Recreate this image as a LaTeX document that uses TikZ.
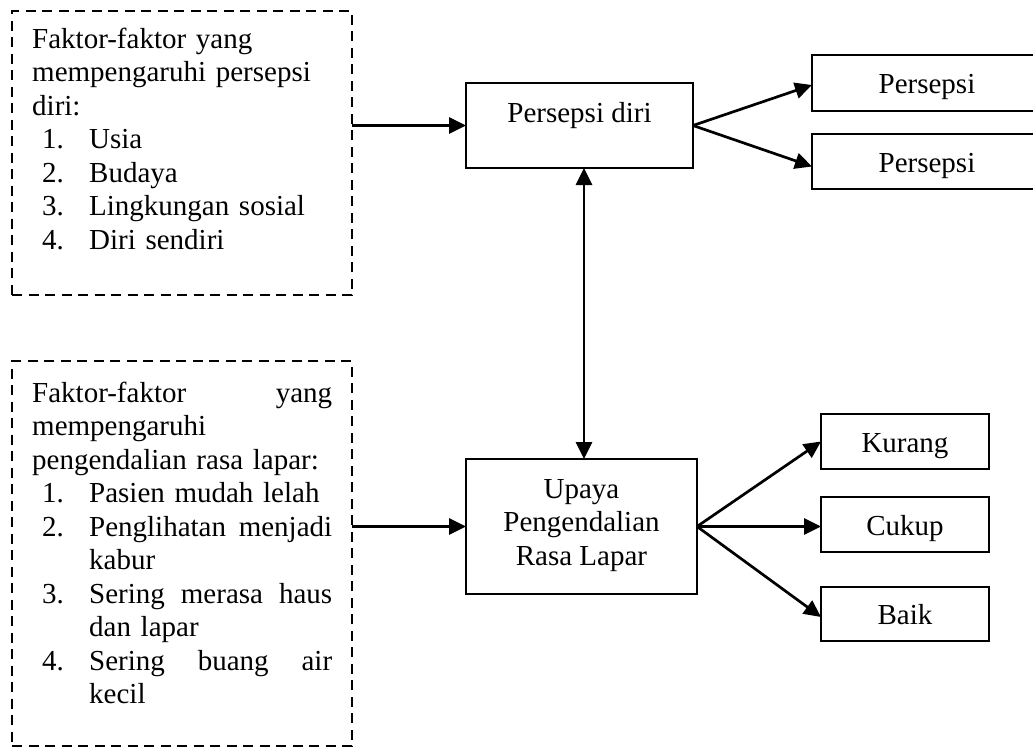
\documentclass[tikz,border=0pt]{standalone}
\usepackage{fontspec}
\setmainfont{Liberation Serif}
\usetikzlibrary{arrows.meta}
\newcommand{\itm}[1]{\hspace*{10pt}\makebox[47pt][l]{#1}}
\newcommand{\cont}{\hspace*{57pt}}
\begin{document}
\begin{tikzpicture}[x=1pt,y=1pt,
  every node/.style={font=\fontsize{29}{33.5}\selectfont},
  solidbox/.style={draw, line width=2.9pt, inner sep=0pt, outer sep=0pt},
  dbox/.style={draw, line width=2.7pt, dash pattern=on 10pt off 6.5pt, inner sep=0pt, outer sep=0pt},
  arr/.style={line width=2.7pt, -{Triangle[length=17pt,width=16pt]}},
  darr/.style={line width=2.7pt, {Triangle[length=17pt,width=16pt]}-{Triangle[length=17pt,width=16pt]}},
  smallbox/.style={solidbox, text height=21pt, text depth=0pt},
  txt/.style={anchor=base west, text width=300pt, align=left, inner sep=0pt}
]
\useasboundingbox (0,0) rectangle (1033,-747);
% dashed factor boxes
\node[dbox, minimum width=340pt, minimum height=284pt] (f1) at (182,-153) {};
\node[txt] (f1t) at (32,-48) {Faktor-faktor yang\\
mempengaruhi persepsi\\
diri:\\
\itm{1.}Usia\\
\itm{2.}Budaya\\
\itm{3.}Lingkungan sosial\\
\itm{4.}Diri sendiri};
\node[dbox, minimum width=340pt, minimum height=385pt] (f2) at (182,-553.5) {};
\node[txt] (f2t) at (32,-402) {Faktor-faktor\hfill yang\\
mempengaruhi\\
pengendalian rasa lapar:\\
\itm{1.}Pasien mudah lelah\\
\itm{2.}Penglihatan\hfill menjadi\\
\cont kabur\\
\itm{3.}Sering\hfill merasa\hfill haus\\
\cont dan lapar\\
\itm{4.}Sering\hfill buang\hfill air\\
\cont kecil};
% main boxes
\node[solidbox, minimum width=227pt, minimum height=85pt, text height=17pt, text depth=24pt] (pd) at (579.5,-125.5) {Persepsi diri};
\node[solidbox, minimum width=231pt, minimum height=135pt, align=center, text height=83pt, text depth=6pt] (up) at (581.5,-526.5) {Upaya\\ Pengendalian\\ Rasa Lapar};
% outcome boxes
\node[smallbox, minimum width=230pt, minimum height=56pt] (p1) at (927,-83) {Persepsi};
\node[smallbox, minimum width=230pt, minimum height=55pt] (p2) at (927,-161.5) {Persepsi};
\node[smallbox, minimum width=168pt, minimum height=55pt] (ku) at (905,-441.5) {Kurang};
\node[smallbox, minimum width=168pt, minimum height=55pt] (cu) at (905,-524.5) {Cukup};
\node[smallbox, minimum width=168pt, minimum height=54pt] (ba) at (905,-614) {Baik};
% connectors
\draw[arr] (f1.east |- pd) -- (pd.west);
\draw[arr] (f2.east |- up) -- (up.west);
\draw[arr] (pd.east) -- ([yshift=-2pt]p1.west);
\draw[arr] (pd.east) -- ([yshift=-5pt]p2.west);
\draw[darr] ([xshift=4.5pt]pd.south) -- ([xshift=4.5pt]pd.south |- up.north);
\draw[arr] (up.east) -- (ku.west);
\draw[arr] (up.east) -- ([yshift=-2pt]cu.west);
\draw[arr] (up.east) -- ([yshift=-3pt]ba.west);
\end{tikzpicture}
\end{document}
